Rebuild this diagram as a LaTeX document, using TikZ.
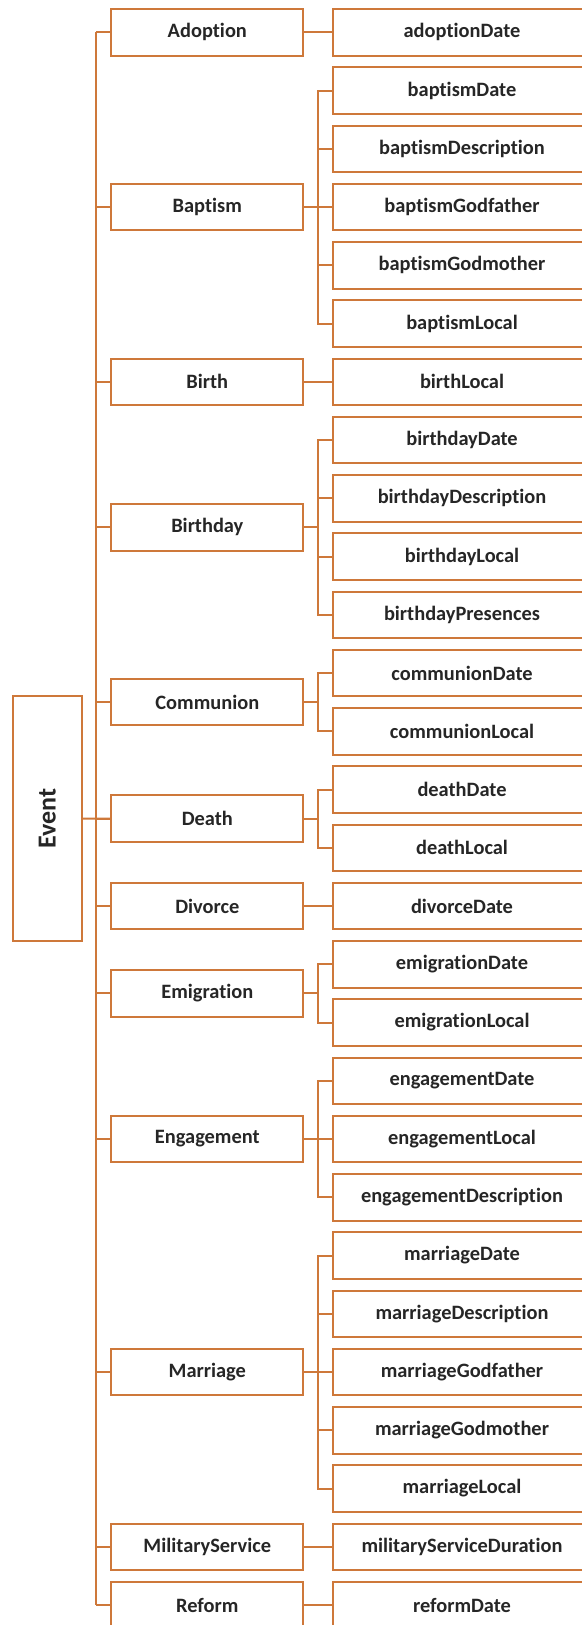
\documentclass[tikz,border=0pt]{standalone}
\usepackage{fontspec}
\setmainfont{Carlito}[Ligatures=NoCommon]
\definecolor{edge}{RGB}{206,120,58}
\begin{document}
\begin{tikzpicture}[x=1pt,y=-1pt,
  box/.style={draw=edge,line width=2pt,fill=white,inner sep=0pt,
    font=\bfseries\fontsize{20.4}{20.4}\selectfont,text=black!85},
  parent/.style={box,minimum width=192pt,minimum height=46.5pt},
  child/.style={box,minimum width=258pt,minimum height=46.5pt},
  link/.style={draw=edge,line width=2pt}]
\useasboundingbox (0,0) rectangle (581,1625);

% attribute boxes, one per row
\foreach \i/\t in {0/adoptionDate,1/baptismDate,2/baptismDescription,
  3/baptismGodfather,4/baptismGodmother,5/baptismLocal,6/birthLocal,
  7/birthdayDate,8/birthdayDescription,9/birthdayLocal,10/birthdayPresences,
  11/communionDate,12/communionLocal,13/deathDate,14/deathLocal,
  15/divorceDate,16/emigrationDate,17/emigrationLocal,18/engagementDate,
  19/engagementLocal,20/engagementDescription,21/marriageDate,
  22/marriageDescription,23/marriageGodfather,24/marriageGodmother,
  25/marriageLocal,26/militaryServiceDuration,27/reformDate}
  \node[child] (c\i) at (462,{32.25+58.25*\i}) {\t};

% event types, centred on their attribute groups
\foreach \n/\r in {Adoption/0,Baptism/3,Birth/6,Birthday/8.5,Communion/11.5,
  Death/13.5,Divorce/15,Emigration/16.5,Engagement/19,Marriage/23,
  MilitaryService/26,Reform/27}
  \node[parent] (p\n) at (207.3,{32.25+58.25*\r}) {\n};

% root
\node[box,minimum width=69pt,minimum height=245pt,
  font=\bfseries\fontsize{26}{26}\selectfont] (event) at (47.2,818.5)
  {\rotatebox{90}{Event}};

% root trunk
\draw[link] (pAdoption.west) -- ++(-14.3,0) coordinate (ttop);
\draw[link] (pReform.west) -- ++(-14.3,0) coordinate (tbot);
\draw[link] (ttop) -- (tbot);
\foreach \n in {Baptism,Birth,Birthday,Communion,Death,Divorce,Emigration,
  Engagement,Marriage,MilitaryService}
  \draw[link] (p\n.west) -- ++(-14.3,0);
\draw[link] (event.east) -- (pDeath.west);

% single-attribute links
\foreach \n/\c in {Adoption/0,Birth/6,Divorce/15,MilitaryService/26,Reform/27}
  \draw[link] (p\n.east) -- (c\c.west);

% grouped attribute links
\foreach \n/\f/\l in {Baptism/1/5,Birthday/7/10,Communion/11/12,Death/13/14,
  Emigration/16/17,Engagement/18/20,Marriage/21/25}{
  \draw[link] (c\f.west) -- ++(-14,0) coordinate (a) -- (a |- c\l.west) -- (c\l.west);
  \draw[link] (p\n.east) -- (p\n.east -| a);
  \foreach \k in {\f,...,\l} \draw[link] (c\k.west) -- ++(-14,0);
}
\end{tikzpicture}
\end{document}
